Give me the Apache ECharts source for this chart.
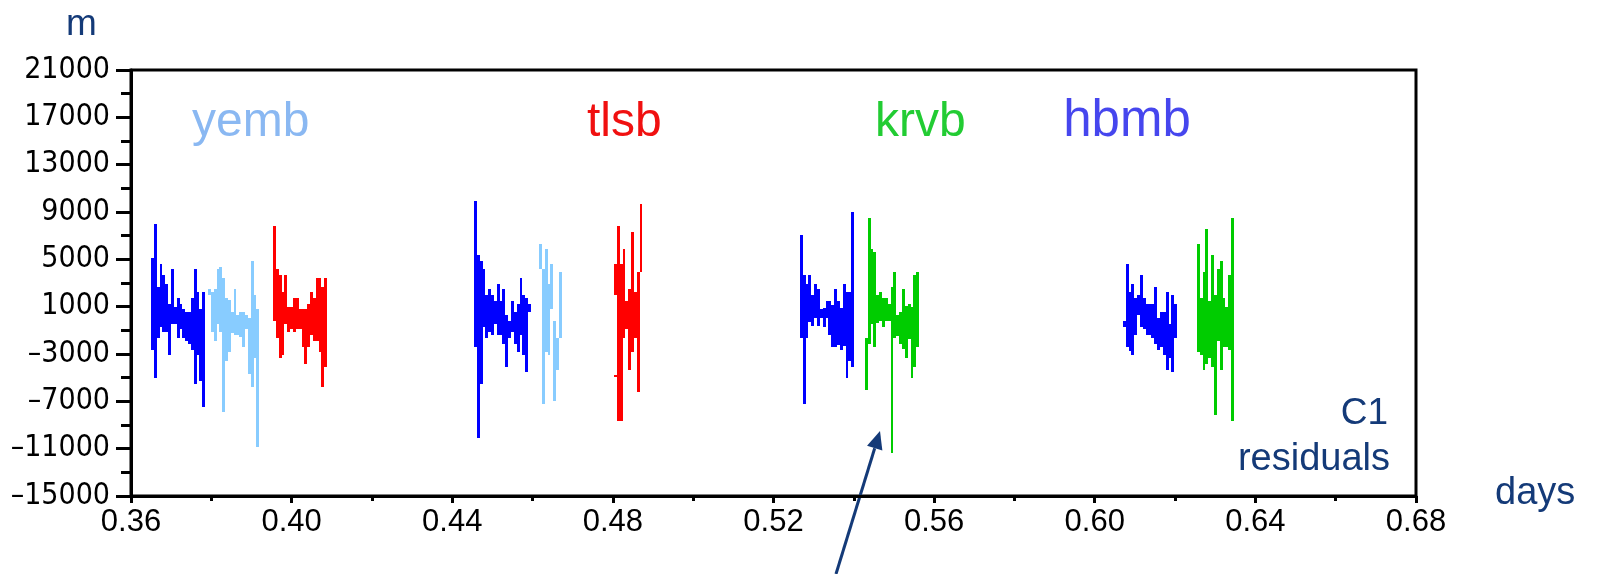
<!DOCTYPE html>
<html>
<head>
<meta charset="utf-8">
<script src="https://cdn.jsdelivr.net/npm/echarts@6/dist/echarts.min.js"></script>
<style>
  html, body { margin:0; padding:0; background:#fff; }
  #main { width:1598px; height:574px; }
</style>
</head>
<body>
<div id="main"></div>
<script>
// residuals per pass, one [low, high] pair per time column (m)
var STEP = 0.00071; // days per column

var hbmbStarts = [0.36498, 0.44541, 0.52658, 0.60701];
var hbmb1 = [[-2660,5110],[-5000,7990],[-1620,2690],[-690,4600],[-1110,3680],[-1110,2920],[-3080,1230],[-470,4180],[-470,940],[-1620,1730],[-890,1230],[-1620,830],[-1870,550],[-2160,550],[-2660,1730],[-5510,4180],[-3080,2240],[-5280,830],[-7480,2240]];
var hbmb2 = [[-2380,9930],[-10070,5370],[-5510,4860],[-690,4180],[-1620,1990],[-1110,2490],[-1370,1990],[-470,1480],[-1370,2920],[-1370,1480],[-2130,2490],[-4070,300],[-1620,-210],[-1110,1480],[-2130,550],[-2800,1230],[-1370,3420],[-3060,1990],[-4490,1730],[550,1230]];
var hbmb3 = [[-1620,7060],[-7200,3680],[-1620,2920],[-270,3680],[-610,1990],[70,2920],[-610,2490],[70,800],[-690,890],[70,1480],[-1370,1480],[-2380,1140],[-2380,2490],[-2210,1480],[-2630,890],[-2300,2920],[-5000,2240],[-3560,2240],[-4070,9000]];
var hbmb4 = [[-720,-210],[-2410,4600],[-2750,2240],[-3080,2920],[-1390,1730],[300,1990],[-720,3680],[-890,1730],[-1390,1230],[-1390,1230],[-1650,1230],[-2160,2660],[-2660,40],[-2410,550],[-3080,550],[-4350,2240],[-3340,-470],[-4520,1990],[-1650,1230]];

var yembStarts = [0.37917, 0.46159];
var yemb1 = [[1990,2490],[-1110,2240],[-1870,2490],[-470,4180],[-1110,4350],[-7880,3420],[-3590,1730],[-2800,1560],[-1250,550],[-1390,2490],[-1390,300],[-1540,550],[-2380,550],[-890,300],[-4720,10],[-5760,4860],[-3340,1990],[-10830,830]];
var yemb2 = [[4180,6300],[-7200,4180],[-2800,5870],[-3060,2920],[800,4600],[-6940,-210],[-4350,-1650],[-1620,3930]];

var tlsbStarts = [0.39536, 0.48027];
var tlsb1 = [[-180,7820],[-1620,4180],[-3310,3680],[-3080,2240],[-470,3680],[-1110,940],[-890,940],[-1110,1730],[-890,1730],[-890,830],[-2380,830],[-3850,830],[-2380,1230],[-1390,2240],[-1870,1730],[-1870,3420],[-2800,3420],[-5760,2660],[-4070,3420]];
var tlsb2 = [[1990,4600,-4970,-4770],[-8630,7820],[-8630,4600],[-1620,5870],[-860,1480],[-4320,2490],[-2800,7310],[-1620,2240],[-6180,3930],[3960,9680]];

var krvbStarts = [0.54277, 0.62544];
var krvb1 = [[-6010,-1620],[-2130,8490],[-440,5870],[-2380,5620],[-350,1990],[-180,2240],[-690,1730],[-180,1730],[-180,1230],[-11340,2660],[-1620,3930],[-1450,300],[-2130,550],[-2550,2490],[-3310,1060],[-1700,1230],[-5000,970],[-4070,3680],[-2380,3930]];
var krvb2 = [[-2800,6300],[-3060,1730],[-4320,3930],[-3820,7560],[-3310,1480],[-4070,5370],[-8130,1990],[-1870,4180],[-4320,4860],[-2380,1730],[-2380,970],[-2630,3680],[-8630,8490]];

var xTicks = [0.36, 0.68, 0.04];
var yTicks = [-15000, 21000, 4000];

var NAVY = '#143a78';
var FONT = 'Liberation Sans, Arial, sans-serif';
var NARROW = "'Liberation Sans Narrow', 'DejaVu Sans Condensed', sans-serif";

function toItems(starts, passes) {
    var out = [];
    for (var p = 0; p < passes.length; p++) {
        var cols = passes[p];
        for (var i = 0; i < cols.length; i++) {
            var t = starts[p] + i * STEP;
            for (var k = 0; k < cols[i].length; k += 2) {
                out.push([t, cols[i][k], cols[i][k + 1]]);
            }
        }
    }
    return out;
}

function renderCol(params, api) {
    var t = api.value(0), lo = api.value(1), hi = api.value(2);
    var a = api.coord([t, hi]);
    var b = api.coord([t + STEP, lo]);
    var x = Math.round(a[0]);
    var w = Math.max(Math.round(b[0]) - x, 1);
    var y = Math.round(a[1]);
    var h = Math.max(Math.round(b[1]) - y, 1);
    return {
        type: 'rect',
        shape: { x: x, y: y, width: w, height: h },
        style: { fill: api.visual('color') }
    };
}

function colSeries(name, color, data) {
    return {
        name: name,
        type: 'custom',
        renderItem: renderCol,
        encode: { x: 0, y: [1, 2] },
        itemStyle: { color: color },
        data: data,
        silent: true
    };
}

function label(text, x, baseline, size, color, align) {
    return {
        type: 'text',
        x: x,
        y: baseline - 0.85 * size,
        style: { text: text, font: size + 'px ' + FONT, fill: color, textAlign: align || 'left', textVerticalAlign: 'top' }
    };
}

// annotation arrow pointing at the krvb outlier
function arrow(x0, y0, x1, y1) {
    var dx = x1 - x0, dy = y1 - y0, len = Math.sqrt(dx * dx + dy * dy);
    var ux = dx / len, uy = dy / len, hl = 18, hw = 8;
    var bx = x1 - hl * ux, by = y1 - hl * uy;
    return [
        { type: 'line', shape: { x1: x0, y1: y0, x2: bx, y2: by }, style: { stroke: NAVY, lineWidth: 3 } },
        { type: 'polygon', shape: { points: [[x1, y1], [bx - hw * uy, by + hw * ux], [bx + hw * uy, by - hw * ux]] }, style: { fill: NAVY } }
    ];
}

var chart = echarts.init(document.getElementById('main'));
var option = {
    animation: false,
    grid: { left: 131, right: 182, top: 70, bottom: 78, show: true, borderColor: '#000', borderWidth: 3 },
    xAxis: {
        type: 'value', min: xTicks[0], max: xTicks[1], interval: xTicks[2],
        axisLine: { onZero: false, lineStyle: { color: '#000', width: 3 } },
        axisTick: { length: 7, lineStyle: { color: '#000', width: 3 } },
        minorTick: { show: true, splitNumber: 2, length: 5, lineStyle: { color: '#000', width: 3 } },
        splitLine: { show: false },
        axisLabel: { color: '#000', fontSize: 31, fontFamily: FONT, margin: 11,
            formatter: function (v) { return v.toFixed(2); } }
    },
    yAxis: {
        type: 'value', min: yTicks[0], max: yTicks[1], interval: yTicks[2],
        axisLine: { lineStyle: { color: '#000', width: 3 } },
        axisTick: { length: 15, lineStyle: { color: '#000', width: 3 } },
        minorTick: { show: true, splitNumber: 2, length: 10, lineStyle: { color: '#000', width: 3 } },
        splitLine: { show: false },
        axisLabel: { color: '#000', fontSize: 30, fontFamily: NARROW, margin: 21,
            formatter: function (v) { return (v < 0 ? '\u2013' : '') + Math.abs(v); } }
    },
    series: [
        colSeries('hbmb', '#0000ff', toItems(hbmbStarts, [hbmb1, hbmb2, hbmb3, hbmb4])),
        colSeries('yemb', '#88ccff', toItems(yembStarts, [yemb1, yemb2])),
        colSeries('tlsb', '#ff0000', toItems(tlsbStarts, [tlsb1, tlsb2])),
        colSeries('krvb', '#00cc00', toItems(krvbStarts, [krvb1, krvb2]))
    ],
    graphic: [
        label('m', 66, 38, 37, NAVY),
        label('yemb', 192, 140, 48, '#8ab8f2'),
        label('tlsb', 587, 140, 48, '#f01010'),
        label('krvb', 875, 140, 48, '#22cc33'),
        label('hbmb', 1127, 140, 51, '#4646ee', 'center'),
        label('C1', 1388, 427, 37, NAVY, 'right'),
        label('residuals', 1390, 473, 38, NAVY, 'right'),
        label('days', 1495, 507, 38, NAVY)
    ].concat(arrow(836, 574, 880, 431))
};
chart.setOption(option);
window.onresize = chart.resize;
</script>
</body>
</html>
